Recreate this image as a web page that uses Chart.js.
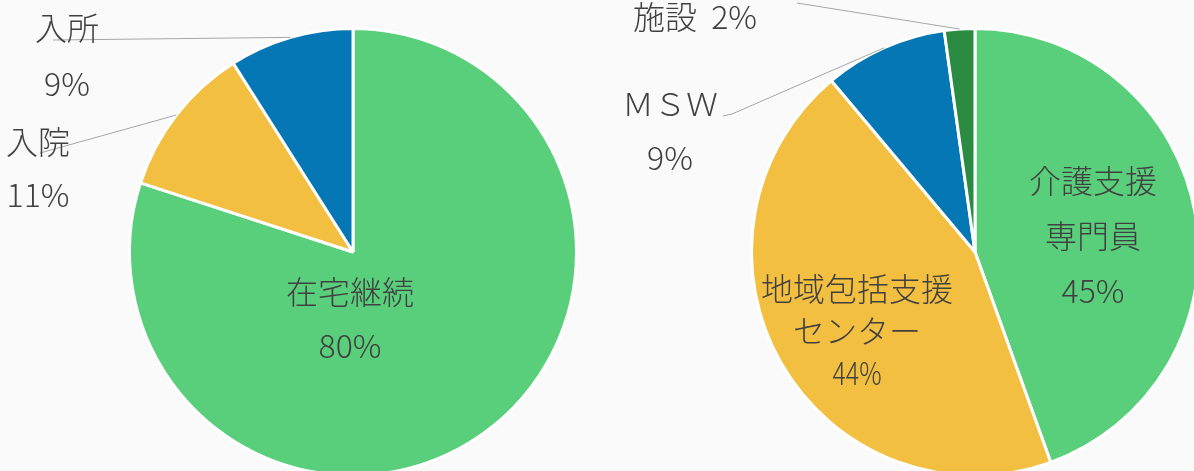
<!DOCTYPE html>
<html lang="ja">
<head>
<meta charset="utf-8">
<script src="https://cdn.jsdelivr.net/npm/chart.js@4.4.1/dist/chart.umd.min.js"></script>
<style>
  html, body { margin: 0; padding: 0; width: 1194px; height: 471px; overflow: hidden; background: #fafafa; }
  canvas { position: absolute; left: 0; top: 0; }
</style>
</head>
<body>
<canvas id="leftPie" width="1210" height="490"></canvas>
<canvas id="rightPie" width="1210" height="490"></canvas>
<script>
// 左: 退院後の行き先
const leftLabels = ["在宅継続", "入院", "入所"];
const leftValues = [80, 11, 9];
const leftPercent = [80, 11, 9];
const leftColors = ["#5ACF7B", "#F3BF41", "#0477B4"];

// 右: 相談先 (扇の大きさは図から読み取り、表示は図のラベル通り)
const rightLabels = [["介護支援", "専門員"], ["地域包括支援", "センター"], ["ＭＳＷ"], ["施設"]];
const rightValues = [44.5, 44.4, 8.9, 2.2];
const rightPercent = [45, 44, 9, 2];
const rightColors = ["#5ACF7B", "#F3BF41", "#0477B4", "#2B8B43"];

// ラベルの位置 (円の中心からの相対位置)
const leftPlacement = [
  { at: [-3, 40], gap: 54 },
  { at: [-315, -110], gap: 53, leader: [[-313, -99]] },
  { at: [-286, -224], gap: 56, leader: [[-300, -212]] },
];
const rightPlacement = [
  { at: [118, -71], gap: 55 },
  { at: [-118, 37], gap: 42, squeeze: 0.78 },
  { at: [-305, -148], gap: 54, leader: [[-243, -138], [-252, -136]] },
  { at: [-280, -235], inline: true, leader: [[-178, -249]] },
];

const textColor = "#404040";
const labelFont = '300 32px "Noto Sans CJK JP", "Noto Sans", sans-serif';

const pieLabels = {
  id: "pieLabels",
  afterDatasetsDraw(chart, args, opts) {
    const ctx = chart.ctx;
    const meta = chart.getDatasetMeta(0);
    ctx.save();
    ctx.font = labelFont;
    ctx.fillStyle = textColor;
    ctx.textAlign = "center";
    ctx.textBaseline = "middle";
    meta.data.forEach((arc, i) => {
      const p = opts.placement[i];
      const cx = arc.x, cy = arc.y;
      const name = chart.data.labels[i];
      const nameLines = Array.isArray(name) ? name : [name];
      const valueText = opts.percent[i] + "%";

      // 引出線
      if (p.leader) {
        const mid = (arc.startAngle + arc.endAngle) / 2;
        ctx.beginPath();
        ctx.strokeStyle = "#a6a6a6";
        ctx.lineWidth = 1;
        ctx.moveTo(cx + Math.cos(mid) * arc.outerRadius, cy + Math.sin(mid) * arc.outerRadius);
        p.leader.forEach((pt) => ctx.lineTo(cx + pt[0], cy + pt[1]));
        ctx.stroke();
      }

      if (p.inline) {
        ctx.fillText(nameLines.join("") + "  " + valueText, cx + p.at[0], cy + p.at[1]);
        return;
      }
      nameLines.forEach((t, k) => {
        ctx.fillText(t, cx + p.at[0], cy + p.at[1] + k * p.gap);
      });
      // パーセント表示 (幅を詰める場合あり)
      const vy = cy + p.at[1] + nameLines.length * p.gap;
      ctx.save();
      ctx.translate(cx + p.at[0], vy);
      ctx.scale(p.squeeze || 1, 1);
      ctx.fillText(valueText, 0, 0);
      ctx.restore();
    });
    ctx.restore();
  },
};

function makePie(id, labels, values, percent, colors, placement, padding) {
  return new Chart(document.getElementById(id), {
    type: "pie",
    data: {
      labels: labels,
      datasets: [{
        data: values,
        backgroundColor: colors,
        borderColor: "#ffffff",
        borderWidth: 3,
      }],
    },
    options: {
      responsive: false,
      animation: false,
      layout: { padding: padding },
      plugins: {
        legend: { display: false },
        tooltip: { enabled: false },
        pieLabels: { placement: placement, percent: percent },
      },
    },
    plugins: [pieLabels],
  });
}

makePie("leftPie", leftLabels, leftValues, leftPercent, leftColors, leftPlacement,
  { left: 128, right: 632, top: 27, bottom: 13 });
makePie("rightPie", rightLabels, rightValues, rightPercent, rightColors, rightPlacement,
  { left: 750, right: 10, top: 27, bottom: 13 });
</script>
</body>
</html>
